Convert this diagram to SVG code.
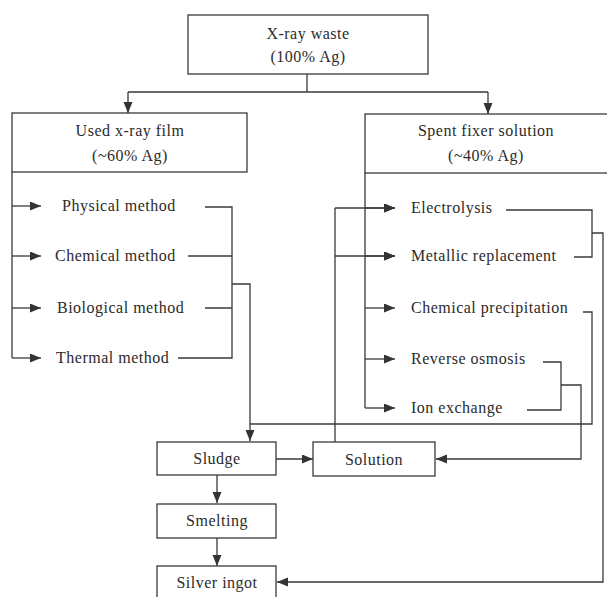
<svg xmlns="http://www.w3.org/2000/svg" width="607" height="597" viewBox="0 0 607 597">
  <style>
    .box { fill: #fff; stroke: #3a3a3a; stroke-width: 1.3; }
    .lbl { font-family: "Liberation Serif", "Times New Roman", serif; font-size: 16px; letter-spacing: 0.5px; fill: #2b2b2b; }
    .mid { text-anchor: middle; }
    .wire { fill: none; stroke: #3a3a3a; stroke-width: 1.3; }
    .arr { fill: none; stroke: #3a3a3a; stroke-width: 1.3; marker-end: url(#tip); }
  </style>
  <defs>
    <marker id="tip" markerUnits="userSpaceOnUse" markerWidth="12" markerHeight="10" refX="11" refY="4.5" orient="auto">
      <path d="M0,0 L11,4.5 L0,9 z" fill="#333"/>
    </marker>
  </defs>
  <rect width="607" height="597" fill="#fff"/>

  <g id="connectors">
    <!-- split from the source box -->
    <path class="wire" d="M307,74 V92 M128,92 H488"/>
    <path class="arr" d="M128,92 V113"/>
    <path class="arr" d="M488,92 V114"/>

    <!-- film treatment methods -->
    <path class="wire" d="M12,172 V358"/>
    <path class="arr" d="M12,206 H41"/>
    <path class="arr" d="M12,256 H41"/>
    <path class="arr" d="M12,308 H41"/>
    <path class="arr" d="M12,358 H41"/>
    <path class="wire" d="M205,207 H232 V358 H178 M188,256 H232 M205,308 H232"/>
    <path class="arr" d="M232,284 H250 V441"/>

    <!-- fixer treatment methods -->
    <path class="wire" d="M365,173 V408"/>
    <path class="arr" d="M365,208 H395"/>
    <path class="arr" d="M365,256 H395"/>
    <path class="arr" d="M365,308 H395"/>
    <path class="arr" d="M365,359 H395"/>
    <path class="arr" d="M365,408 H395"/>

    <!-- solution recycled to electrolysis / metallic replacement -->
    <path class="wire" d="M335,442 V208"/>
    <path class="arr" d="M335,208 H395"/>
    <path class="arr" d="M335,256 H395"/>

    <!-- electrolysis + metallic replacement to silver ingot -->
    <path class="wire" d="M506,210 H592 V257 H574"/>
    <path class="arr" d="M592,233 H603 V582 H277"/>

    <!-- chemical precipitation to sludge -->
    <path class="wire" d="M583,312 H592 V424 H250"/>

    <!-- reverse osmosis + ion exchange to solution -->
    <path class="wire" d="M543,362 H561 V410 H527"/>
    <path class="arr" d="M561,385 H581 V459 H436"/>

    <!-- bottom chain -->
    <path class="arr" d="M276,459 H313"/>
    <path class="arr" d="M217,475 V503"/>
    <path class="arr" d="M217,538 V566"/>
  </g>

  <g id="xray-waste">
    <rect class="box" x="188" y="15" width="240" height="59"/>
    <text class="lbl mid" x="308" y="39">X-ray waste</text>
    <text class="lbl mid" x="308" y="62">(100% Ag)</text>
  </g>
  <g id="used-film">
    <rect class="box" x="12" y="113" width="235" height="59"/>
    <text class="lbl mid" x="130" y="136">Used x-ray film</text>
    <text class="lbl mid" x="130" y="161">(~60% Ag)</text>
  </g>
  <g id="spent-fixer">
    <rect class="box" x="365" y="114" width="250" height="59"/>
    <text class="lbl mid" x="486" y="136">Spent fixer solution</text>
    <text class="lbl mid" x="486" y="161">(~40% Ag)</text>
  </g>

  <g id="physical"><text class="lbl" x="62" y="211">Physical method</text></g>
  <g id="chemical"><text class="lbl" x="55" y="261">Chemical method</text></g>
  <g id="biological"><text class="lbl" x="57" y="313">Biological method</text></g>
  <g id="thermal"><text class="lbl" x="56" y="363">Thermal method</text></g>

  <g id="electrolysis"><text class="lbl" x="411" y="213">Electrolysis</text></g>
  <g id="metallic"><text class="lbl" x="411" y="261">Metallic replacement</text></g>
  <g id="precipitation"><text class="lbl" x="411" y="313">Chemical precipitation</text></g>
  <g id="osmosis"><text class="lbl" x="411" y="364">Reverse osmosis</text></g>
  <g id="ion-exchange"><text class="lbl" x="411" y="413">Ion exchange</text></g>

  <g id="sludge">
    <rect class="box" x="157" y="442" width="119" height="33"/>
    <text class="lbl mid" x="217" y="464">Sludge</text>
  </g>
  <g id="solution">
    <rect class="box" x="313" y="442" width="122" height="34"/>
    <text class="lbl mid" x="374" y="465">Solution</text>
  </g>
  <g id="smelting">
    <rect class="box" x="157" y="504" width="119" height="34"/>
    <text class="lbl mid" x="217" y="526">Smelting</text>
  </g>
  <g id="silver-ingot">
    <rect class="box" x="157" y="566" width="119" height="40"/>
    <text class="lbl mid" x="217" y="588">Silver ingot</text>
  </g>
</svg>
